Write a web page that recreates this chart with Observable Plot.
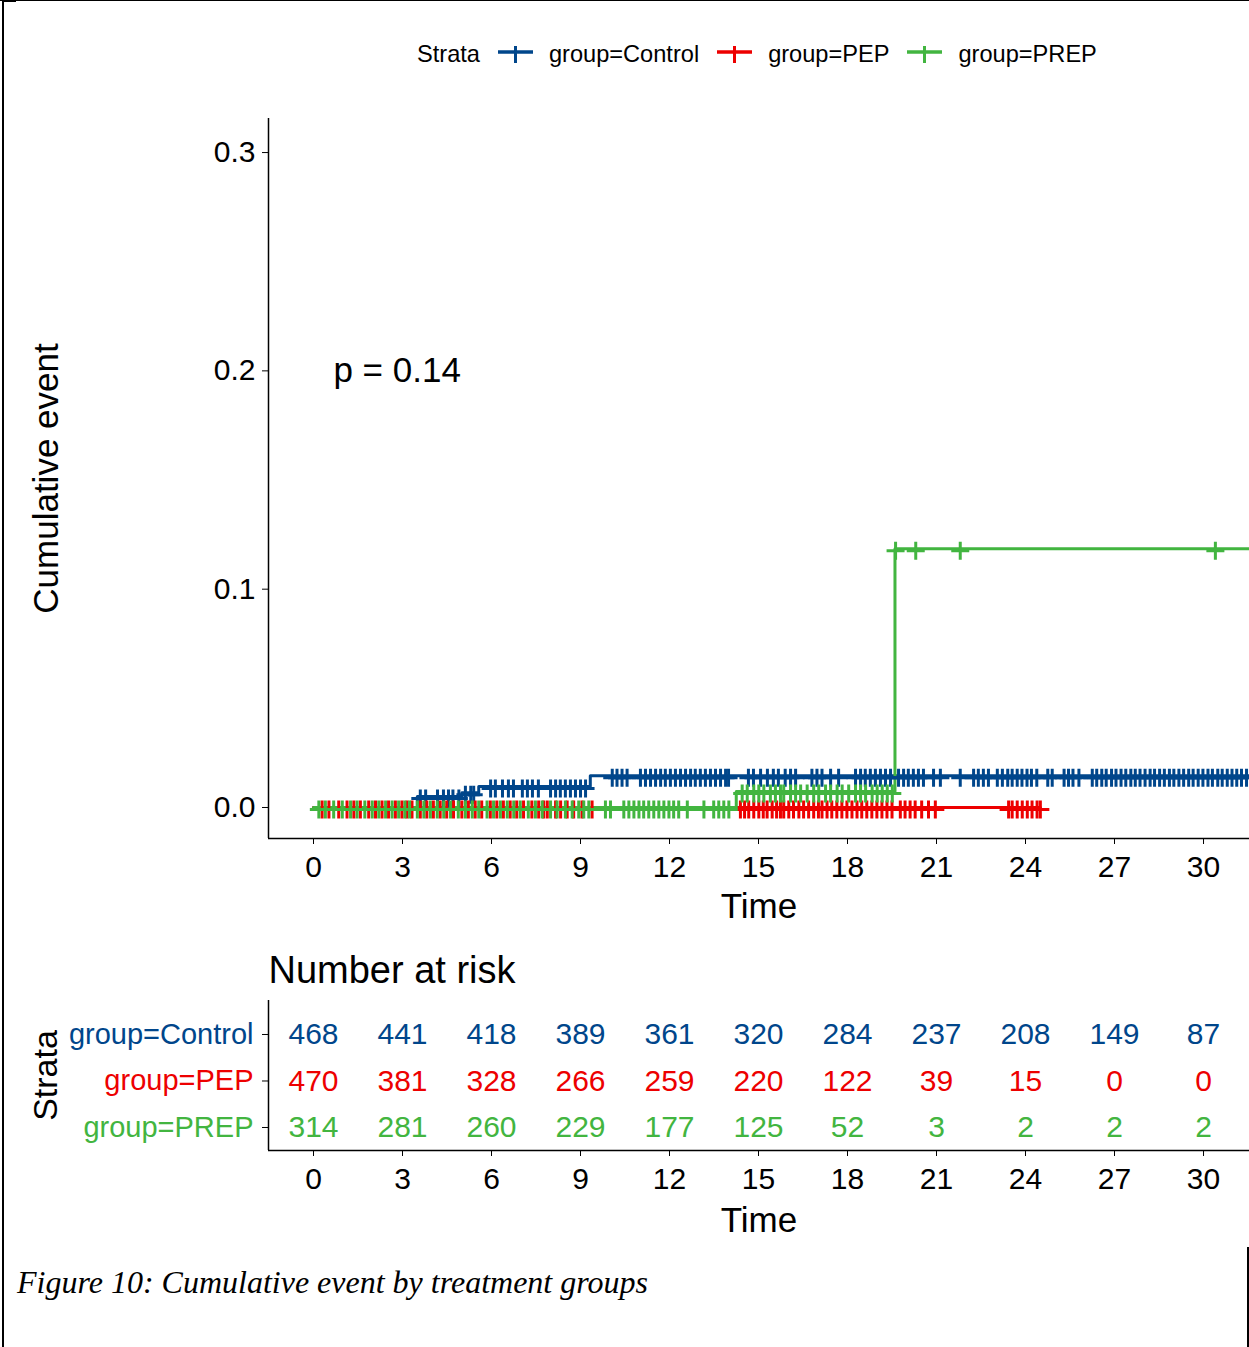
<!DOCTYPE html>
<html>
<head>
<meta charset="utf-8">
<script src="https://cdn.jsdelivr.net/npm/d3@7"></script>
<script src="https://cdn.jsdelivr.net/npm/@observablehq/plot@0.6"></script>
<style>
  html, body { margin: 0; padding: 0; background: #fff; }
  #page { position: relative; width: 1249px; height: 1347px; overflow: hidden; background: #fff;
          font-family: "Liberation Sans", Arial, sans-serif; color: #000; }
  .abs { position: absolute; }
  #legend { position: absolute; left: 417px; top: 38px; height: 32px; display: flex; align-items: center;
            font-size: 23.6px; white-space: nowrap; }
  #legend svg { display: block; }
  #caption { position: absolute; left: 17px; top: 1266px; font-family: "Liberation Serif", "Times New Roman", serif;
             font-style: italic; font-size: 32px; line-height: 32px; white-space: nowrap; }
</style>
</head>
<body>
<div id="page">
  <div id="main" class="abs" style="left:0;top:0;width:1249px;overflow:hidden"></div>
  <div id="risk" class="abs" style="left:0;top:940px;width:1249px;overflow:hidden"></div>
  <div id="legend"></div>
  <div id="caption"></div>
  <div class="abs" style="left:0;top:0;width:1249px;height:1px;background:#000"></div>
  <div class="abs" style="left:2px;top:0;width:14px;height:2px;background:#000"></div>
  <div class="abs" style="left:2px;top:0;width:2px;height:1347px;background:#000"></div>
  <div class="abs" style="left:1247px;top:1247px;width:2px;height:100px;background:#000"></div>
</div>
<script>
// ---------- data ----------
const groups = ["group=Control", "group=PEP", "group=PREP"];
const colors = ["#00468B", "#ED0000", "#42B540"];
const legendTitle = "Strata";

const timeTicks = [0, 3, 6, 9, 12, 15, 18, 21, 24, 27, 30];
const eventTicks = [0, 0.1, 0.2, 0.3];

// step curves (cumulative event)
const controlStepTime  = [0, 3.5, 5.0, 5.57, 9.33, 32];
const controlStepEvent = [0, 0.005, 0.0067, 0.0096, 0.0146, 0.0146];
const pepStepTime      = [0, 24.5];
const pepStepEvent     = [0, 0];
const prepStepTime     = [0, 14.25, 19.6, 33];
const prepStepEvent    = [0, 0.0073, 0.1185, 0.1185];

// censoring times
const controlCensor = [
  3.6, 3.78, 4.18, 4.38, 4.55, 4.7, 4.9,
  5.12, 5.3, 5.4,
  5.97, 6.13, 6.37, 6.57, 6.74, 7.04, 7.21, 7.38, 7.58,
  7.99, 8.16, 8.32, 8.49, 8.66, 8.83, 9.0, 9.17,
  10.07, 10.23, 10.4, 10.57,
  11.02, 11.19, 11.36, 11.53, 11.7, 11.86, 12.03, 12.2, 12.37, 12.54, 12.71, 12.87, 13.04, 13.21, 13.38, 13.55, 13.72, 13.89, 13.99,
  14.66, 14.83, 15.07, 15.3, 15.5, 15.67, 15.9, 16.08, 16.25,
  16.8, 16.97, 17.14, 17.43, 17.7,
  18.27, 18.44, 18.6, 18.77, 18.94, 19.11, 19.28, 19.45, 19.72, 19.89, 20.05, 20.22, 20.39, 20.56,
  20.9, 21.13, 21.8, 22.25, 22.41, 22.58, 22.75,
  23.05, 23.22, 23.4, 23.55, 23.72, 23.88, 24.05, 24.2, 24.38, 24.75, 24.9, 25.3, 25.45, 25.6, 25.8,
  26.25, 26.4, 26.57, 26.72, 26.9, 27.05, 27.22, 27.38, 27.55, 27.7, 27.86, 28.03, 28.2, 28.35, 28.52,
  28.68, 28.85, 29.0, 29.17, 29.33, 29.5, 29.65, 29.82, 29.98, 30.15, 30.3, 30.48, 30.63, 30.8, 30.96,
  31.12, 31.28, 31.45
];
const pepCensor = [
  0.29, 0.52, 0.85, 1.13, 1.36, 1.58, 1.86, 2.09, 2.31, 2.53, 2.76, 2.98, 3.15, 3.32, 3.6, 3.82, 4.04,
  4.27, 4.49, 4.72, 5.0, 5.22, 5.45, 5.67, 5.96, 6.18, 6.4, 6.63, 6.85, 7.08, 7.36, 7.59, 7.76, 7.88,
  8.16, 8.33, 8.55, 8.77, 9.05, 9.39,
  14.39, 14.53, 14.67, 14.84, 15.01, 15.16, 15.29, 15.46, 15.61, 15.74, 15.85, 16.02, 16.18, 16.36,
  16.52, 16.69, 16.86, 17.02, 17.14, 17.31, 17.47, 17.64, 17.81, 17.98, 18.15, 18.32, 18.48, 18.65,
  18.82, 18.99, 19.16, 19.33, 19.5, 19.78, 19.94, 20.11, 20.28, 20.5, 20.73, 20.96,
  23.43, 23.55, 23.72, 23.89, 24.06, 24.22, 24.39, 24.5
];
const prepCensor = [
  0.18, 0.4, 0.68, 0.97, 1.25, 1.47, 1.73, 1.98, 2.2, 2.43, 2.65, 2.87, 3.08, 3.24, 3.5, 3.72, 3.94,
  4.17, 4.39, 4.62, 4.88, 5.12, 5.35, 5.57, 5.85, 6.07, 6.3, 6.53, 6.75, 6.97, 7.24, 7.48, 7.71, 7.99,
  8.21, 8.49, 8.72, 8.94, 9.11, 9.28, 9.84, 10.01, 10.46, 10.63, 10.8, 10.97, 11.13, 11.3, 11.47, 11.64,
  11.81, 11.98, 12.14, 12.31, 12.6, 13.16, 13.49, 13.66, 13.83, 14.0,
  14.45, 14.62, 14.84, 15.01, 15.18, 15.4, 15.57, 15.74, 15.85, 16.08, 16.25, 16.42, 16.64, 16.86,
  17.03, 17.26, 17.43, 17.65, 17.82, 18.04, 18.27, 18.44, 18.61, 18.83, 19.0, 19.17, 19.34, 19.51,
  19.62, 20.3, 21.8, 30.4
];

const pvalLabel = "p = 0.14";
const pvalTime = 0.67;
const pvalEvent = 0.2;

// number at risk
const riskTimes   = [0, 3, 6, 9, 12, 15, 18, 21, 24, 27, 30];
const riskControl = [468, 441, 418, 389, 361, 320, 284, 237, 208, 149, 87];
const riskPEP     = [470, 381, 328, 266, 259, 220, 122, 39, 15, 0, 0];
const riskPREP    = [314, 281, 260, 229, 177, 125, 52, 3, 2, 2, 2];

const caption = "Figure 10: Cumulative event by treatment groups";

// ---------- build tables ----------
function steps(group, times, values) {
  return times.map((t, i) => ({group, time: t, value: values[i]}));
}
function censors(group, cts, times, values) {
  return cts.map(t => {
    let v = values[0];
    for (let i = 0; i < times.length; i++) if (times[i] <= t) v = values[i];
    return {group, time: t, value: v};
  });
}
const stepData = [
  ...steps(groups[0], controlStepTime, controlStepEvent),
  ...steps(groups[1], pepStepTime, pepStepEvent),
  ...steps(groups[2], prepStepTime, prepStepEvent)
];
const censorData = [
  ...censors(groups[0], controlCensor, controlStepTime, controlStepEvent),
  ...censors(groups[1], pepCensor, pepStepTime, pepStepEvent),
  ...censors(groups[2], prepCensor, prepStepTime, prepStepEvent)
];
const riskSeries = [riskControl, riskPEP, riskPREP];
const riskData = [];
groups.forEach((g, gi) => riskTimes.forEach((t, i) => riskData.push({group: g, row: groups.length - gi, time: t, n: riskSeries[gi][i]})));
const strataRows = groups.map((g, gi) => ({group: g, row: groups.length - gi}));

const plusSymbol = {
  draw(ctx, size) {
    const r = Math.sqrt(size / Math.PI);
    ctx.moveTo(-r, 0); ctx.lineTo(r, 0);
    ctx.moveTo(0, -r); ctx.lineTo(0, r);
  }
};

const font = '"Liberation Sans", Arial, sans-serif';
const xDomain = [-1.517, 31.55];
const yDomain = [-0.0142, 0.3156];
const colorScale = {domain: groups, range: colors};

const main = Plot.plot({
  width: 1249, height: 940,
  marginTop: 118, marginBottom: 102, marginLeft: 268, marginRight: 0,
  style: {fontFamily: font, fontSize: "30px", color: "#000", background: "transparent", overflow: "hidden"},
  x: {domain: xDomain, ticks: timeTicks, tickSize: 6, tickPadding: 11, label: null},
  y: {domain: yDomain, ticks: eventTicks, tickFormat: d3.format(".1f"), tickSize: 6, tickPadding: 7, label: null},
  color: colorScale,
  marks: [
    Plot.ruleX([xDomain[0]], {stroke: "#000", strokeWidth: 1.5}),
    Plot.ruleY([yDomain[0]], {stroke: "#000", strokeWidth: 1.5}),
    Plot.line(stepData, {x: "time", y: "value", z: "group", stroke: "group", curve: "step-after", strokeWidth: 3}),
    Plot.dot(censorData, {x: "time", y: "value", stroke: "group", fill: "none", symbol: plusSymbol, r: 9, strokeWidth: 3, dy: 2}),
    Plot.text([{time: pvalTime, value: pvalEvent, label: pvalLabel}], {x: "time", y: "value", text: "label", textAnchor: "start", fontSize: 35, fill: "#000"}),
    Plot.text(["Time"], {text: d => d, frameAnchor: "bottom", lineAnchor: "middle", textAnchor: "middle", dy: 68, fontSize: 35, fill: "#000"}),
    Plot.text(["Cumulative event"], {text: d => d, frameAnchor: "left", lineAnchor: "middle", textAnchor: "middle", dx: -222, rotate: -90, fontSize: 35, fill: "#000"})
  ]
});
document.getElementById("main").appendChild(main);

const risk = Plot.plot({
  width: 1249, height: 300,
  marginTop: 60, marginBottom: 90, marginLeft: 268, marginRight: 0,
  style: {fontFamily: font, fontSize: "30px", color: "#000", background: "transparent", overflow: "visible"},
  x: {domain: xDomain, ticks: timeTicks, tickSize: 6, tickPadding: 11, label: null},
  y: {domain: [0.5054, 3.731], ticks: [1, 2, 3], tickFormat: () => "", tickSize: 6, label: null},
  color: colorScale,
  marks: [
    Plot.ruleX([xDomain[0]], {stroke: "#000", strokeWidth: 1.5}),
    Plot.ruleY([0.5054], {stroke: "#000", strokeWidth: 1.5}),
    Plot.text(riskData, {x: "time", y: "row", text: d => String(d.n), fill: "group", fontSize: 30}),
    Plot.text(strataRows, {y: "row", text: "group", fill: "group", frameAnchor: "left", textAnchor: "end", dx: -15, fontSize: 29}),
    Plot.text(["Number at risk"], {text: d => d, frameAnchor: "top-left", lineAnchor: "middle", textAnchor: "start", dy: -30, fontSize: 38, fill: "#000"}),
    Plot.text(["Time"], {text: d => d, frameAnchor: "bottom", lineAnchor: "middle", textAnchor: "middle", dy: 70, fontSize: 35, fill: "#000"}),
    Plot.text([legendTitle], {text: d => d, frameAnchor: "left", lineAnchor: "middle", textAnchor: "middle", dx: -222, rotate: -90, fontSize: 34, fill: "#000"})
  ]
});
document.getElementById("risk").appendChild(risk);

// legend
const leg = document.getElementById("legend");
const title = document.createElement("span");
title.textContent = legendTitle;
title.style.marginRight = "18px";
leg.appendChild(title);
groups.forEach((g, i) => {
  const ns = "http://www.w3.org/2000/svg";
  const svg = document.createElementNS(ns, "svg");
  svg.setAttribute("width", "35"); svg.setAttribute("height", "26");
  svg.style.marginRight = "16px";
  const h = document.createElementNS(ns, "line");
  h.setAttribute("x1", "0"); h.setAttribute("x2", "35"); h.setAttribute("y1", "11"); h.setAttribute("y2", "11");
  h.setAttribute("stroke", colors[i]); h.setAttribute("stroke-width", "3.5");
  const v = document.createElementNS(ns, "line");
  v.setAttribute("x1", "17.5"); v.setAttribute("x2", "17.5"); v.setAttribute("y1", "5"); v.setAttribute("y2", "22");
  v.setAttribute("stroke", colors[i]); v.setAttribute("stroke-width", "3");
  svg.appendChild(h); svg.appendChild(v);
  leg.appendChild(svg);
  const s = document.createElement("span");
  s.textContent = g;
  s.style.marginRight = i < groups.length - 1 ? "18px" : "0";
  leg.appendChild(s);
});
document.getElementById("caption").textContent = caption;
</script>
</body>
</html>
